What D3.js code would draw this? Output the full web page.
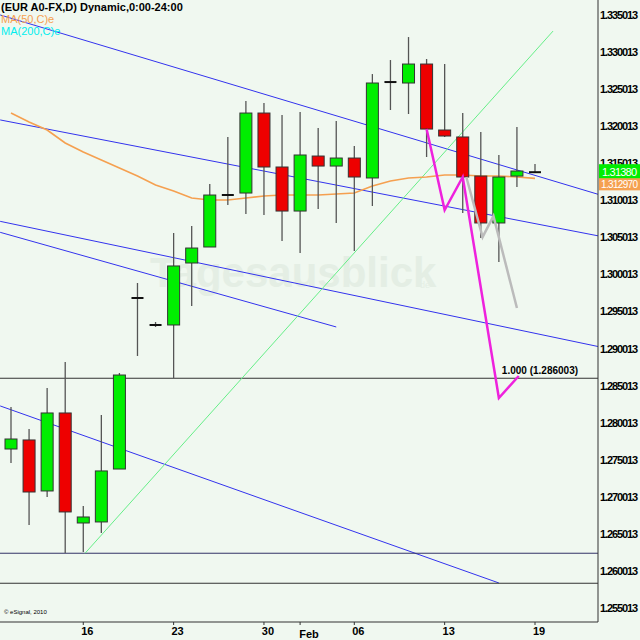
<!DOCTYPE html>
<html><head><meta charset="utf-8">
<script src="https://cdn.jsdelivr.net/npm/d3@7"></script>
<style>body{margin:0;background:#f0f8f0}svg{display:block}text{font-family:"Liberation Sans",Arial,sans-serif}</style>
</head><body><svg id="c" width="640" height="640"></svg>
<script>
// daily bars, Jan 12 .. Feb 19
const dates = ["01-12","01-13","01-14","01-15","01-16","01-17","01-18","01-19","01-20","01-21","01-22","01-23","01-24","01-25","01-30","01-31","02-01","02-02","02-03","02-04","02-05","02-06","02-07","02-08","02-13","02-14","02-15","02-16","02-17","02-19"];
const opens  = [1.27646,1.27768,1.27080,1.28132,1.26648,1.26662,1.27376,1.29683,1.29319,1.29319,1.30155,1.30371,1.31072,1.31099,1.32178,1.31450,1.30856,1.31598,1.31463,1.31571,1.31302,1.32596,1.32583,1.32839,1.31949,1.31855,1.31328,1.30695,1.31328,1.31380];
const closes = [1.27781,1.27066,1.28132,1.26797,1.26729,1.27350,1.28644,1.29683,1.29319,1.30115,1.30357,1.31072,1.31072,1.32178,1.31450,1.30856,1.31612,1.31463,1.31571,1.31315,1.32583,1.32596,1.32839,1.31962,1.31868,1.31315,1.30695,1.31315,1.31396,1.31380];
const highs  = [1.28213,1.27916,1.28469,1.28820,1.26877,1.28105,1.28671,1.29885,1.29359,1.30560,1.30654,1.31221,1.31855,1.32340,1.32313,1.32151,1.32192,1.31976,1.32070,1.31733,1.32704,1.32893,1.33203,1.32907,1.32839,1.32178,1.31922,1.31612,1.31989,1.31490];
const lows   = [1.27457,1.26621,1.26999,1.26244,1.26257,1.26513,1.28604,1.28901,1.29292,1.28604,1.29575,1.30371,1.30937,1.30816,1.30802,1.30452,1.30290,1.30883,1.30695,1.30317,1.30924,1.32219,1.32165,1.31585,1.31855,1.30829,1.30492,1.30169,1.31180,1.31380];
const ma50   = [1.32178,1.32057,1.31949,1.31774,1.31652,1.31544,1.31436,1.31328,1.31207,1.31126,1.31032,1.31005,1.31005,1.31032,1.31059,1.31072,1.31072,1.31072,1.31086,1.31099,1.31194,1.31261,1.31302,1.31315,1.31342,1.31342,1.31328,1.31328,1.31315,1.31297];
const yTicks = [1.335013,1.330013,1.325013,1.320013,1.315013,1.310013,1.305013,1.300013,1.295013,1.290013,1.285013,1.280013,1.275013,1.270013,1.265013,1.260013,1.255013];
const xTickIdx = [4,9,14,19,24,29];
const xTickLabels = ["16","23","30","06","13","19"];
// drawn studies: [barIndex, price]
const channels = [
  [[-0.6,1.33501],[32.5,1.31081]],
  [[-0.6,1.32085],[32.5,1.30521]],
  [[-0.6,1.30717],[32.5,1.29028]],
  [[-0.6,1.30569],[18.0,1.29292]],
  [[-0.6,1.28227],[27.0,1.25839]]
];
const levels = [1.286003,1.262400,1.258350];
const fibLine = [[4.1,1.26240],[30.0,1.33284]];
const magenta = [[23,1.31962],[24,1.30870],[25,1.31315],[27,1.28334],[28.1,1.28631]];
const grayProj = [[25.2,1.31315],[26.1,1.30505],[26.7,1.30788],[28,1.29548]];

const W = 598, H = 622;
const svg = d3.select("#c");
const x = d3.scaleLinear().domain([0,29]).range([11,535]);
const y = d3.scaleLinear().domain([1.255013,1.330013]).range([608,52]);

svg.append("rect").attr("width",640).attr("height",640).attr("fill","#f0f8f0");
svg.append("clipPath").attr("id","cp").append("rect").attr("width",W).attr("height",H);
const g = svg.append("g").attr("clip-path","url(#cp)");

// watermark
g.append("text").attr("x",150).attr("y",287).attr("font-size",42).attr("font-weight","bold")
  .attr("fill","#e4eee4").text("Tagesausblick");
g.append("text").attr("x",420).attr("y",288).attr("font-size",9).attr("fill","#e4eee4").text("de");

const line = d3.line().x(d => x(d[0])).y(d => y(d[1]));
channels.forEach(c => g.append("path").attr("d",line(c)).attr("stroke","#3333ee").attr("fill","none").attr("stroke-width",1));
levels.forEach((v,i) => g.append("line").attr("x1",0).attr("x2",W).attr("y1",y(v)).attr("y2",y(v))
  .attr("stroke", i==1 ? "#333366" : "#333").attr("stroke-width",1));
g.append("path").attr("d",line(fibLine)).attr("stroke","#66ee88").attr("fill","none");
g.append("path").attr("d",line(ma50.map((v,i)=>[i,v]))).attr("stroke","#f5a050").attr("stroke-width",1.6).attr("fill","none");

// candles
const bw = 12;
dates.forEach((d,i) => {
  const cx = x(i);
  g.append("line").attr("x1",cx).attr("x2",cx).attr("y1",y(highs[i])).attr("y2",y(lows[i])).attr("stroke","#555").attr("stroke-width",1.3);
  const o = opens[i], c = closes[i];
  if (Math.abs(o-c) < 0.00005) {
    g.append("line").attr("x1",cx-6).attr("x2",cx+6).attr("y1",y(c)).attr("y2",y(c)).attr("stroke","#111").attr("stroke-width",2);
  } else {
    g.append("rect").attr("x",cx-bw/2).attr("width",bw).attr("y",y(Math.max(o,c))).attr("height",Math.abs(y(o)-y(c)))
      .attr("fill", c > o ? "#00ee00" : "#ee0000").attr("stroke","#333").attr("stroke-width",1);
  }
});
g.append("path").attr("d",line(grayProj)).attr("stroke","#bbbbbb").attr("stroke-width",2.5).attr("fill","none");
g.append("path").attr("d",line(magenta)).attr("stroke","#ee22dd").attr("stroke-width",2.5).attr("fill","none");
g.append("text").attr("x",x(27)+3).attr("y",y(levels[0])-4).attr("font-size",10).attr("font-weight","bold").text("1.000 (1.286003)");

// frame
svg.append("line").attr("x1",W).attr("x2",W).attr("y1",0).attr("y2",H).attr("stroke","#333");
svg.append("line").attr("x1",0).attr("x2",W).attr("y1",H).attr("y2",H).attr("stroke","#333");

// right axis
yTicks.forEach(v => svg.append("text").attr("x",600).attr("y",y(v)+4).attr("font-size",11).attr("font-weight","bold")
  .attr("textLength",38).text(v.toFixed(6)));
svg.append("rect").attr("x",599).attr("y",y(ma50[29])-1).attr("width",41).attr("height",13).attr("fill","#f5a050");
svg.append("text").attr("x",601).attr("y",y(ma50[29])+10).attr("font-size",10).attr("textLength",37).attr("fill","#fff").text(ma50[29].toFixed(6));
svg.append("rect").attr("x",599).attr("y",y(closes[29])-8).attr("width",41).attr("height",14).attr("fill","#00ee00");
svg.append("text").attr("x",602).attr("y",y(closes[29])+4).attr("font-size",11).attr("textLength",35).attr("fill","#fff").text(closes[29].toFixed(5));

// bottom axis
xTickIdx.forEach((i,k) => {
  svg.append("line").attr("x1",x(i)).attr("x2",x(i)).attr("y1",H).attr("y2",H+3).attr("stroke","#333");
  svg.append("text").attr("x",x(i)+4).attr("y",H+13).attr("text-anchor","middle").attr("font-size",11).attr("font-weight","bold").text(xTickLabels[k]);
});
svg.append("line").attr("x1",x(16)).attr("x2",x(16)).attr("y1",H).attr("y2",H+3).attr("stroke","#333");
svg.append("text").attr("x",309).attr("y",638).attr("text-anchor","middle").attr("font-size",11).attr("font-weight","bold").text("Feb");

// legend
svg.append("text").attr("x",1).attr("y",11).attr("font-size",11).attr("font-weight","bold").text("(EUR A0-FX,D) Dynamic,0:00-24:00");
svg.append("text").attr("x",1).attr("y",23).attr("font-size",11).attr("fill","#f5a050").text("MA(50,C)e");
svg.append("text").attr("x",1).attr("y",35).attr("font-size",11).attr("fill","#00eeee").text("MA(200,C)e");
svg.append("text").attr("x",4).attr("y",614).attr("font-size",6).text("© eSignal, 2010");
</script></body></html>
